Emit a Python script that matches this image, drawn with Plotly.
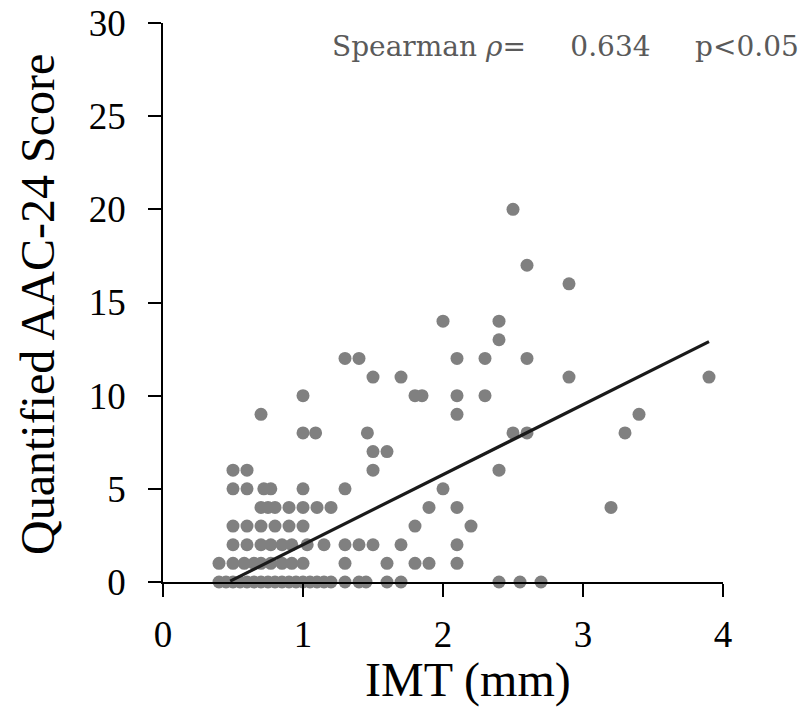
import plotly.graph_objects as go

# IMT (mm) values of the points, grouped by their AAC-24 score
imt_s0 = [0.40, 0.45, 0.50, 0.55, 0.60, 0.65, 0.70, 0.75, 0.80, 0.85, 0.90, 0.95,
          1.00, 1.05, 1.10, 1.15, 1.20, 1.30, 1.40, 1.45, 1.60, 1.70, 2.40, 2.55, 2.70]
imt_s1 = [0.40, 0.50, 0.58, 0.65, 0.70, 0.77, 0.85, 0.92, 1.00, 1.30, 1.60, 1.80, 1.90, 2.10]
imt_s2 = [0.50, 0.60, 0.70, 0.77, 0.85, 0.92, 1.03, 1.15, 1.30, 1.40, 1.50, 1.70, 2.10]
imt_s3 = [0.50, 0.60, 0.70, 0.80, 0.90, 1.00, 1.80, 2.20]
imt_s4 = [0.70, 0.75, 0.80, 0.90, 1.00, 1.10, 1.20, 1.90, 2.10, 3.20]
imt_s5 = [0.50, 0.60, 0.72, 0.77, 1.00, 1.30, 2.00]
imt_s6 = [0.50, 0.60, 1.50, 2.40]
imt_s7 = [1.50, 1.60]
imt_s8 = [1.00, 1.09, 1.46, 2.50, 2.60, 3.30]
imt_s9 = [0.70, 2.10, 3.40]
imt_s10 = [1.00, 1.80, 1.85, 2.10, 2.30]
imt_s11 = [1.50, 1.70, 2.90, 3.90]
imt_s12 = [1.30, 1.40, 2.10, 2.30, 2.60]
imt_s13 = [2.40]
imt_s14 = [2.00, 2.40]
imt_s16 = [2.90]
imt_s17 = [2.60]
imt_s20 = [2.50]

rows = [(0, imt_s0), (1, imt_s1), (2, imt_s2), (3, imt_s3), (4, imt_s4), (5, imt_s5),
        (6, imt_s6), (7, imt_s7), (8, imt_s8), (9, imt_s9), (10, imt_s10), (11, imt_s11),
        (12, imt_s12), (13, imt_s13), (14, imt_s14), (16, imt_s16), (17, imt_s17), (20, imt_s20)]

imt = []
score = []
for s, xs in rows:
    for v in xs:
        imt.append(v)
        score.append(s)

# regression line end points
line_imt = [0.48, 3.90]
line_score = [0.05, 12.9]

x_ticks = [0, 1, 2, 3, 4]
y_ticks = [0, 5, 10, 15, 20, 25, 30]

fig = go.Figure()
fig.add_trace(go.Scatter(
    x=imt, y=score, mode="markers",
    marker=dict(size=13, color="#808080", line=dict(width=0)),
    cliponaxis=False, showlegend=False, hoverinfo="skip"))
fig.add_trace(go.Scatter(
    x=line_imt, y=line_score, mode="lines",
    line=dict(color="#1a1a1a", width=3.2),
    cliponaxis=False, showlegend=False, hoverinfo="skip"))

tick_font = dict(family="Liberation Serif, Times New Roman, serif", size=37, color="#000000")
title_font = dict(family="Liberation Serif, Times New Roman, serif", size=48, color="#000000")

nb = "\u00a0"
fig.update_layout(
    width=807, height=711,
    margin=dict(l=163, r=84, t=23, b=129),
    paper_bgcolor="white", plot_bgcolor="white",
    xaxis=dict(range=[0, 4], tickvals=x_ticks, ticktext=[str(v) for v in x_ticks],
               showgrid=False, zeroline=False, showline=True, linecolor="#000000", linewidth=1.5,
               ticks="outside", ticklen=13, tickwidth=1.5, tickcolor="#000000",
               tickfont=tick_font, ticklabelstandoff=6, automargin=False),
    yaxis=dict(range=[0, 30], tickvals=y_ticks, ticktext=[str(v) for v in y_ticks],
               showgrid=False, zeroline=False, showline=True, linecolor="#000000", linewidth=1.5,
               ticks="outside", ticklen=13, tickwidth=1.5, tickcolor="#000000",
               tickfont=tick_font, ticklabelstandoff=15, automargin=False),
    annotations=[
        dict(text="Quantified AAC-24 Score", xref="paper", yref="paper",
             x=(37 - 163) / 560, y=(582 - 305) / 559, xanchor="center", yanchor="middle",
             textangle=-90, showarrow=False, font=title_font),
        dict(text="IMT (mm)", xref="paper", yref="paper",
             x=(468 - 163) / 560, y=(582 - 680) / 559, xanchor="center", yanchor="middle",
             showarrow=False, font=title_font),
        dict(text="Spearman <i>ρ</i>=" + nb * 5 + "0.634" + nb * 4 + " p<0.05",
             xref="paper", yref="paper",
             x=(801 - 163) / 560, y=(582 - 47) / 559, xanchor="right", yanchor="middle",
             showarrow=False,
             font=dict(family="DejaVu Serif, serif", size=28, color="#5a5a5a")),
    ],
)

fig.write_html("out.html", config={"displayModeBar": False},
               post_script="document.body.style.margin='0';")
